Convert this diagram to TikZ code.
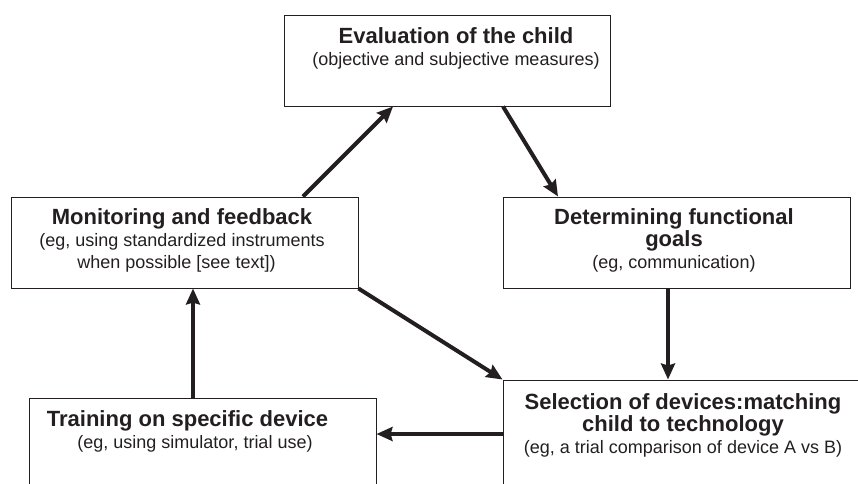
\documentclass[tikz,border=0pt]{standalone}
\usepackage{fontspec}
\setmainfont{Liberation Sans}
\usetikzlibrary{arrows.meta}

\definecolor{ink}{HTML}{231F20}
\newcommand{\hfont}{\fontsize{22}{22}\selectfont\bfseries}

\begin{document}
\begin{tikzpicture}[x=1pt, y=-1pt,
	box/.style={draw=ink, line width=1pt, rectangle, inner sep=0pt},
	txt/.style={text=ink, align=center, anchor=north, inner sep=0pt, font=\fontsize{18}{22}\selectfont},
	flow/.style={draw=ink, line width=4pt, -{Stealth[length=16pt,width=14pt,inset=2pt]}},]

\useasboundingbox (0,0) rectangle (858,483);
\clip (0,0) rectangle (858,483);

% boxes
\node[box, minimum width=326pt, minimum height=91pt] (eval) at (447,60.5) {};
\node[box, minimum width=347pt, minimum height=91pt] (monitor) at (184.5,242.5) {};
\node[box, minimum width=347pt, minimum height=91pt] (goals) at (676.5,242.5) {};
\node[box, minimum width=347pt, minimum height=110pt] (training) at (202.5,453) {};
\node[box, minimum width=360pt, minimum height=130pt] (select) at (683,445) {};

% texts
\node[txt] (evaltxt) at ([xshift=9pt, yshift=-13pt]eval.north)
	{{\hfont Evaluation of the child}\\ (objective and subjective measures)};
\node[txt] (monitortxt) at ([xshift=-2.5pt, yshift=-12pt]monitor.north)
	{{\hfont Monitoring and feedback}\\ (eg, using standardized instruments\\ when possible [see text])\hspace*{11pt}};
\node[txt] (goalstxt) at ([xshift=-2.5pt, yshift=-12pt]goals.north)
	{{\hfont Determining functional}\\ {\hfont goals}\\ (eg, communication)};
\node[txt] (selecttxt) at ([yshift=-14pt]select.north)
	{{\hfont Selection of devices:matching}\\ {\hfont child to technology}\\ (eg, a trial comparison of device A vs B)};
\node[txt] (trainingtxt) at ([xshift=-15pt, yshift=-13pt]training.north)
	{{\hfont Training on specific device}\\ \hspace*{15pt}(eg, using simulator, trial use)};

% cycle
\draw[flow] ([xshift=118.5pt]monitor.north) -- ([xshift=-54pt]eval.south);
\draw[flow] ([xshift=56pt]eval.south) -- ([xshift=-118.5pt]goals.north);
\draw[flow] ([xshift=-8.5pt]goals.south) -- ([xshift=-8.5pt]goals.south |- select.north);
\draw[flow] (monitor.south east) -- (select.north west);
\draw[flow] ([yshift=11pt]select.west) -- ([yshift=11pt]select.west -| training.east);
\draw[flow] ([xshift=-9.5pt]training.north) -- ([xshift=-9.5pt]training.north |- monitor.south);
\end{tikzpicture}
\end{document}
